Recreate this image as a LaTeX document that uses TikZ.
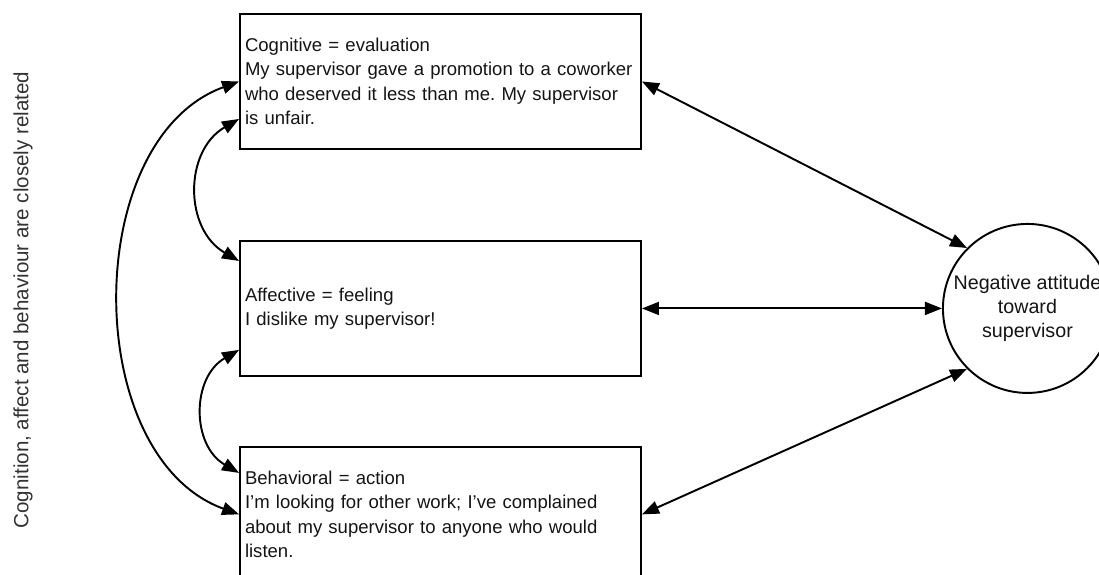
\documentclass[tikz,border=0pt]{standalone}
\usepackage{fontspec}
\setmainfont{Liberation Sans}
\frenchspacing
\usetikzlibrary{positioning, arrows.meta}
\definecolor{textgray}{RGB}{20, 20, 20}
\definecolor{notegray}{RGB}{50, 50, 50}

\begin{document}
\begin{tikzpicture}[
    node distance=1.8cm and 6cm,
    >={Triangle[length=3.4mm, width=2.6mm]},
    compbox/.style={rectangle, draw, line width=1.1pt, minimum width=8.02cm, minimum height=2.7cm, text width=7.82cm, inner xsep=0.1cm, align=left, font=\fontsize{10.55}{13.9}\selectfont, text=textgray},
    attitude/.style={circle, draw, line width=1.1pt, minimum size=3.38cm, inner sep=0pt, align=center, font=\fontsize{11.2}{13.9}\selectfont, text=textgray},
    link/.style={<->, line width=1.1pt},
]
\useasboundingbox (0,0) rectangle (21.98,11.48);

% ============ components (middle column) ============
\node[compbox] (cog) at (8.81,9.85) {Cognitive = evaluation\\My supervisor gave a promotion to a coworker\\who deserved it less than me. My supervisor\\is unfair.};
\node[compbox, below=of cog] (aff) {Affective = feeling\\I dislike my supervisor!};
\node[compbox, below=1.38cm of aff] (beh) {Behavioral = action\\I'm looking for other work; I've complained\\about my supervisor to anyone who would\\listen.};

% ============ attitude (right) ============
\node[attitude, right=of aff] (att) {Negative attitude\\toward\\supervisor};

% ============ side note (left) ============
\node[rotate=90, font=\fontsize{11.7}{14}\selectfont, text=notegray] (note) at (0.46,5.48) {Cognition, affect and behaviour are closely related};

% ============ arrows ============
% links between components
\coordinate (cog_lo) at ([yshift=0.62cm]cog.south west);
\coordinate (aff_hi) at ([yshift=-0.42cm]aff.north west);
\coordinate (aff_lo) at ([yshift=0.54cm]aff.south west);
\coordinate (beh_hi) at ([yshift=-0.54cm]beh.north west);
\draw[link] (cog.west) to[out=200, in=160] (beh.west);
\draw[link] (cog_lo) to[out=210, in=150, looseness=1.15] (aff_hi);
\draw[link] (aff_lo) to[out=210, in=150, looseness=1.15] (beh_hi);

% components <-> attitude
\draw[link] (cog.east) -- (att.135);
\draw[link] (aff.east) -- (att.west);
\draw[link] (beh.east) -- (att.225);

\end{tikzpicture}
\end{document}
